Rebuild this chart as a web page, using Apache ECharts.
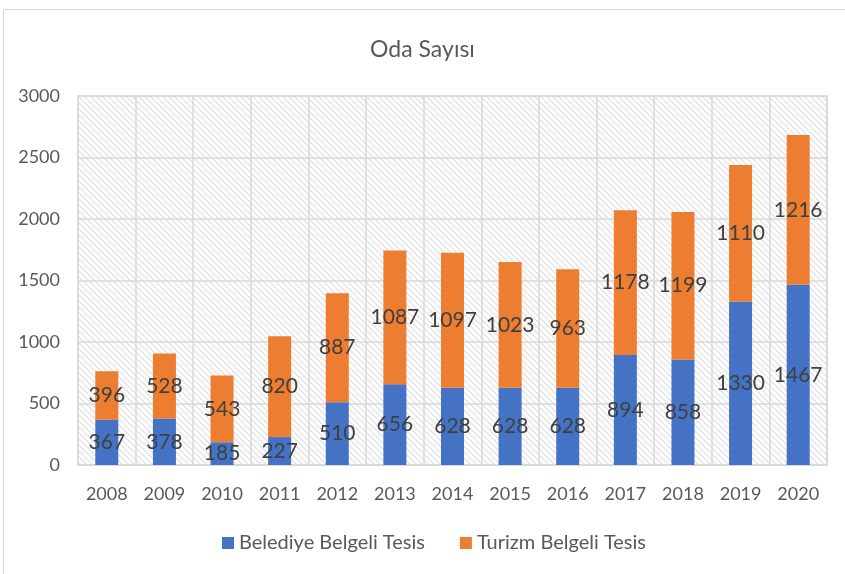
<!DOCTYPE html>
<html>
<head>
<meta charset="utf-8">
<script src="https://cdn.jsdelivr.net/npm/echarts@6/dist/echarts.min.js"></script>
<style>
  html, body { margin: 0; padding: 0; background: #fff; }
  #chart { width: 845px; height: 574px; }
</style>
</head>
<body>
<div id="chart"></div>
<script>
// yıllar ve oda sayıları
const years = ['2008', '2009', '2010', '2011', '2012', '2013', '2014', '2015', '2016', '2017', '2018', '2019', '2020'];
const belediye = [367, 378, 185, 227, 510, 656, 628, 628, 628, 894, 858, 1330, 1467];
const turizm = [396, 528, 543, 820, 887, 1087, 1097, 1023, 963, 1178, 1199, 1110, 1216];

// arka plan için çapraz çizgili desen
function makeHatch() {
    const c = document.createElement('canvas');
    const s = 6;
    c.width = s;
    c.height = s;
    const ctx = c.getContext('2d');
    ctx.fillStyle = '#ffffff';
    ctx.fillRect(0, 0, s, s);
    ctx.strokeStyle = '#e3e3e3';
    ctx.lineWidth = 1.4;
    ctx.beginPath();
    ctx.moveTo(-1, -1); ctx.lineTo(s + 1, s + 1);
    ctx.moveTo(-1, s - 1); ctx.lineTo(1, s + 1);
    ctx.moveTo(s - 1, -1); ctx.lineTo(s + 1, 1);
    ctx.stroke();
    return c;
}

const chart = echarts.init(document.getElementById('chart'));
const font = 'Lato, "Open Sans", sans-serif';

const labelStyle = {
    show: true,
    position: 'inside',
    color: '#404040',
    fontSize: 21,
    fontFamily: font
};

const option = {
    animation: false,
    textStyle: { fontFamily: font },
    title: {
        text: 'Oda Sayısı',
        left: 'center',
        top: 33,
        textStyle: { color: '#595959', fontSize: 23, fontWeight: 'normal', fontFamily: font }
    },
    graphic: [{
        type: 'rect',
        shape: { x: 3.5, y: 9.5, width: 900, height: 700 },
        style: { fill: null, stroke: '#d9d9d9', lineWidth: 1 },
        silent: true,
        z: -10
    }],
    legend: {
        bottom: 16,
        left: 217,
        itemWidth: 12,
        itemHeight: 12,
        itemGap: 35,
        icon: 'rect',
        textStyle: { color: '#595959', fontSize: 20, fontFamily: font },
        data: ['Belediye Belgeli Tesis', 'Turizm Belgeli Tesis']
    },
    grid: {
        left: 78,
        right: 18,
        top: 96,
        bottom: 109,
        show: true,
        borderColor: '#d9d9d9',
        borderWidth: 1.5,
        backgroundColor: { image: makeHatch(), repeat: 'repeat' }
    },
    xAxis: {
        type: 'category',
        data: years,
        axisLine: { lineStyle: { color: '#d9d9d9', width: 1.5 } },
        axisTick: { show: false },
        splitLine: { show: true, lineStyle: { color: '#d9d9d9', width: 1.5 } },
        axisLabel: { color: '#595959', fontSize: 18, margin: 20, fontFamily: font }
    },
    yAxis: {
        type: 'value',
        min: 0,
        max: 3000,
        interval: 500,
        axisLine: { show: false },
        axisTick: { show: false },
        splitLine: { lineStyle: { color: '#d9d9d9', width: 1.5 } },
        axisLabel: {
            color: '#595959', fontSize: 18, margin: 18, fontFamily: font,
            formatter: v => String(v)
        }
    },
    series: [
        {
            name: 'Belediye Belgeli Tesis',
            type: 'bar',
            stack: 'oda',
            barWidth: 23,
            itemStyle: { color: '#4472C4' },
            label: labelStyle,
            data: belediye
        },
        {
            name: 'Turizm Belgeli Tesis',
            type: 'bar',
            stack: 'oda',
            barWidth: 23,
            itemStyle: { color: '#ED7D31' },
            label: labelStyle,
            data: turizm
        }
    ]
};

chart.setOption(option);
</script>
</body>
</html>
